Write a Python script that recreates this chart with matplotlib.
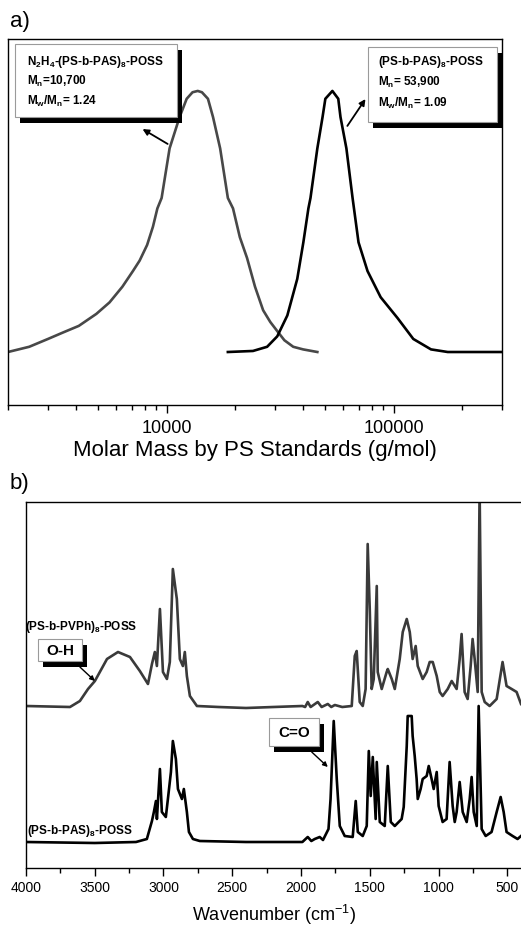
import matplotlib
matplotlib.use("Agg")
import matplotlib.pyplot as plt
from matplotlib import ticker
from matplotlib.patches import Rectangle
from matplotlib.transforms import offset_copy

plt.rcParams['font.family'] = ['Liberation Sans', 'DejaVu Sans']
plt.rcParams['mathtext.default'] = 'regular'

######################## a) GPC traces #########################
# N2H4-(PS-b-PAS)8-POSS
mm_hyd = [2000, 2480, 3000, 3500, 4100, 4900, 5600, 6380, 7100, 7600, 8200, 8700,
          9100, 9500, 10300, 11400, 12250, 13000, 13700, 14300, 15200, 16000,
          17200, 18600, 19600, 21000, 22600, 24500, 26600, 28600, 30700, 33000,
          36100, 39900, 46100]
sig_hyd = [0.00, 0.02, 0.05, 0.075, 0.10, 0.146, 0.19, 0.25, 0.31, 0.35, 0.41, 0.48,
           0.55, 0.59, 0.78, 0.90, 0.97, 0.995, 1.00, 0.995, 0.97, 0.90,
           0.78, 0.59, 0.55, 0.44, 0.36, 0.25, 0.16, 0.115, 0.08, 0.045,
           0.02, 0.01, 0.00]

# (PS-b-PAS)8-POSS
mm_pas = [18600, 24000, 27700, 30700, 34000, 37600, 40000, 42100, 43000, 46100,
          48600, 50000, 53700, 57000, 58300, 61900, 65900, 70000, 76700, 87600,
          104000, 122000, 146000, 173000, 303000]
sig_pas = [0.00, 0.004, 0.02, 0.06, 0.14, 0.28, 0.42, 0.55, 0.59, 0.78,
           0.90, 0.97, 1.00, 0.97, 0.90, 0.78, 0.59, 0.42, 0.31, 0.21,
           0.13, 0.05, 0.01, 0.00, 0.00]

######################## b) FTIR spectra #########################
# (PS-b-PVPh)8-POSS
wn_top = [4000, 3680, 3608, 3549, 3499, 3411, 3331, 3244, 3172, 3113, 3084, 3063,
          3048, 3026, 3004, 2975, 2954, 2932, 2903, 2881, 2859, 2845, 2830, 2808,
          2757, 2600, 2400, 2200, 1990, 1970, 1951, 1930, 1878, 1850, 1805, 1780,
          1754, 1700, 1631, 1609, 1595, 1573, 1551, 1530, 1515, 1500, 1486, 1471,
          1449, 1442, 1413, 1377, 1369, 1340, 1318, 1282, 1260, 1231, 1209, 1188,
          1166, 1151, 1115, 1086, 1064, 1042, 1013, 991, 970, 933, 904, 868,
          846, 832, 810, 788, 766, 752, 737, 715, 701, 686, 664, 628,
          577, 534, 505, 468, 432, 400]
ir_top = [0.00, -0.01, 0.05, 0.17, 0.25, 0.47, 0.54, 0.49, 0.35, 0.22, 0.42, 0.54,
          0.40, 0.97, 0.34, 0.27, 0.44, 1.37, 1.07, 0.47, 0.40, 0.54, 0.30, 0.10,
          0.00, -0.01, -0.02, -0.01, 0.00, -0.01, 0.04, -0.01, 0.04, -0.01, 0.02, -0.01,
          0.01, -0.01, 0.00, 0.50, 0.55, 0.04, 0.00, 0.17, 1.62, 0.97, 0.17, 0.27,
          1.20, 0.34, 0.17, 0.34, 0.37, 0.27, 0.17, 0.47, 0.74, 0.87, 0.74, 0.47,
          0.60, 0.40, 0.27, 0.34, 0.44, 0.44, 0.30, 0.14, 0.10, 0.17, 0.25, 0.17,
          0.47, 0.72, 0.14, 0.07, 0.40, 0.67, 0.47, 0.14, 2.17, 0.14, 0.04, 0.00,
          0.07, 0.44, 0.20, 0.17, 0.14, 0.02]

# (PS-b-PAS)8-POSS
wn_bot = [4000, 3500, 3200, 3121, 3084, 3070, 3055, 3048, 3026, 3012, 2983, 2968,
          2946, 2932, 2910, 2895, 2866, 2852, 2830, 2815, 2786, 2736, 2400, 2100,
          1990, 1951, 1925, 1900, 1864, 1840, 1800, 1785, 1762, 1740, 1718, 1682,
          1624, 1602, 1587, 1551, 1522, 1507, 1493, 1478, 1457, 1449, 1427, 1391,
          1369, 1347, 1318, 1268, 1253, 1231, 1224, 1195, 1188, 1173, 1159, 1151,
          1130, 1115, 1086, 1071, 1050, 1035, 1013, 999, 970, 941, 919, 897,
          882, 868, 846, 824, 795, 773, 759, 744, 722, 708, 686, 657,
          614, 577, 548, 526, 505, 461, 425, 400]
ir_bot = [0.00, -0.01, 0.00, 0.03, 0.21, 0.30, 0.41, 0.23, 0.73, 0.30, 0.25, 0.43,
          0.70, 1.01, 0.83, 0.53, 0.43, 0.53, 0.30, 0.10, 0.03, 0.01, 0.00, 0.00,
          0.00, 0.05, 0.01, 0.03, 0.05, 0.02, 0.13, 0.43, 1.21, 0.63, 0.16, 0.06,
          0.05, 0.41, 0.10, 0.06, 0.16, 0.91, 0.46, 0.85, 0.23, 0.80, 0.20, 0.16,
          0.76, 0.20, 0.16, 0.23, 0.35, 0.96, 1.26, 1.26, 1.06, 0.86, 0.63, 0.43,
          0.53, 0.63, 0.66, 0.76, 0.63, 0.53, 0.70, 0.36, 0.20, 0.23, 0.80, 0.36,
          0.20, 0.30, 0.60, 0.30, 0.20, 0.43, 0.65, 0.30, 0.16, 1.36, 0.13, 0.06,
          0.10, 0.30, 0.45, 0.30, 0.10, 0.06, 0.03, 0.06]
offset_top = 1.62
offset_bot = 0.26

gray = '#484848'

fig = plt.figure(figsize=(5.21, 9.28), dpi=100)
ax_a = fig.add_axes([8/521, 1 - 406/928, 494/521, 366/928])
ax_b = fig.add_axes([26/521, 1 - 869/928, 495/521, 366/928])


def shadow_box(ax, x, y, w, h):
    # black drop shadow + white box with thin grey border (axes fraction)
    sh = offset_copy(ax.transAxes, fig=fig, x=5, y=-6, units='dots')
    ax.add_patch(Rectangle((x, y), w, h, transform=sh, facecolor='black',
                           edgecolor='none', zorder=5, clip_on=False))
    ax.add_patch(Rectangle((x, y), w, h, transform=ax.transAxes, facecolor='white',
                           edgecolor='#9a9a9a', lw=0.8, zorder=6, clip_on=False))


# ---------- panel a ----------
ax_a.plot(mm_hyd, sig_hyd, color=gray, lw=1.9, solid_joinstyle='round')
ax_a.plot(mm_pas, sig_pas, color='black', lw=1.9, solid_joinstyle='round')
ax_a.set_xscale('log')
ax_a.set_xlim(2000, 300000)
ax_a.set_ylim(-0.203, 1.199)
ax_a.set_yticks([])
ax_a.xaxis.set_major_formatter(ticker.FuncFormatter(lambda v, p: f"{v:.0f}"))
ax_a.xaxis.set_minor_formatter(ticker.NullFormatter())
ax_a.tick_params(axis='x', which='major', direction='out', length=6, width=1,
                 labelsize=13, pad=4)
ax_a.tick_params(axis='x', which='minor', direction='out', length=3.5, width=1)
ax_a.set_xlabel('Molar Mass by PS Standards (g/mol)', fontsize=16, labelpad=2)
for s in ax_a.spines.values():
    s.set_linewidth(1.0)

shadow_box(ax_a, 0.0142, 0.787, 0.328, 0.199)
ax_a.text(0.038, 0.940, r'N$_2$H$_4$-(PS-b-PAS)$_8$-POSS', transform=ax_a.transAxes,
          fontsize=8.5, fontweight='bold', va='center', zorder=7)
ax_a.text(0.038, 0.886, r'M$_n$=10,700', transform=ax_a.transAxes,
          fontsize=8.5, fontweight='bold', va='center', zorder=7)
ax_a.text(0.038, 0.831, r'M$_w$/M$_n$= 1.24', transform=ax_a.transAxes,
          fontsize=8.5, fontweight='bold', va='center', zorder=7)

shadow_box(ax_a, 0.729, 0.774, 0.261, 0.204)
ax_a.text(0.749, 0.940, r'(PS-b-PAS)$_8$-POSS', transform=ax_a.transAxes,
          fontsize=8.5, fontweight='bold', va='center', zorder=7)
ax_a.text(0.749, 0.883, r'M$_n$= 53,900', transform=ax_a.transAxes,
          fontsize=8.5, fontweight='bold', va='center', zorder=7)
ax_a.text(0.749, 0.826, r'M$_w$/M$_n$= 1.09', transform=ax_a.transAxes,
          fontsize=8.5, fontweight='bold', va='center', zorder=7)

ax_a.annotate('', xy=(7830, 0.854), xytext=(10100, 0.797),
              arrowprops=dict(arrowstyle='-|>', color='black', lw=1.3,
                              mutation_scale=9, shrinkA=0, shrinkB=0))
ax_a.annotate('', xy=(75100, 0.969), xytext=(62500, 0.866),
              arrowprops=dict(arrowstyle='-|>', color='black', lw=1.3,
                              mutation_scale=9, shrinkA=0, shrinkB=0))

# ---------- panel b ----------
ax_b.plot(wn_top, [v + offset_top for v in ir_top], color='#3a3a3a', lw=1.9,
          solid_joinstyle='round')
ax_b.plot(wn_bot, [v + offset_bot for v in ir_bot], color='black', lw=1.9,
          solid_joinstyle='round')
ax_b.set_xlim(4000, 400)
ax_b.set_ylim(0, 3.66)
ax_b.set_yticks([])
ax_b.xaxis.set_major_locator(ticker.MultipleLocator(500))
ax_b.xaxis.set_minor_locator(ticker.MultipleLocator(250))
ax_b.tick_params(axis='x', which='major', direction='out', length=6, width=1,
                 labelsize=10, pad=3)
ax_b.tick_params(axis='x', which='minor', direction='out', length=3.5, width=1)
ax_b.set_xlabel(r'Wavenumber (cm$^{-1}$)', fontsize=13, labelpad=5)
ax_b.spines['right'].set_visible(False)
for s in ax_b.spines.values():
    s.set_linewidth(1.0)

ax_b.text(-0.002, 0.661, r'(PS-b-PVPh)$_8$-POSS', transform=ax_b.transAxes,
          fontsize=8.5, fontweight='bold', va='center', zorder=7)
ax_b.text(0.002, 0.104, r'(PS-b-PAS)$_8$-POSS', transform=ax_b.transAxes,
          fontsize=8.5, fontweight='bold', va='center', zorder=7)

shadow_box(ax_b, 0.024, 0.566, 0.089, 0.060)
ax_b.text(0.069, 0.596, 'O-H', transform=ax_b.transAxes, fontsize=11,
          fontweight='bold', ha='center', va='center', zorder=7)
ax_b.annotate('', xy=(3499, 1.87), xytext=(3608, 2.01),
              arrowprops=dict(arrowstyle='-|>', color='black', lw=1.0,
                              mutation_scale=7, shrinkA=0, shrinkB=0))

shadow_box(ax_b, 0.491, 0.333, 0.101, 0.0765)
ax_b.text(0.541, 0.372, 'C=O', transform=ax_b.transAxes, fontsize=11,
          fontweight='bold', ha='center', va='center', zorder=7)
ax_b.annotate('', xy=(1805, 1.01), xytext=(1922, 1.16),
              arrowprops=dict(arrowstyle='-|>', color='black', lw=1.0,
                              mutation_scale=7, shrinkA=0, shrinkB=0))

fig.text(10/521, 1 - 22/928, 'a)', fontsize=16, va='center', ha='left')
fig.text(10/521, 1 - 484/928, 'b)', fontsize=16, va='center', ha='left')

fig.savefig('out.png', dpi=100)
